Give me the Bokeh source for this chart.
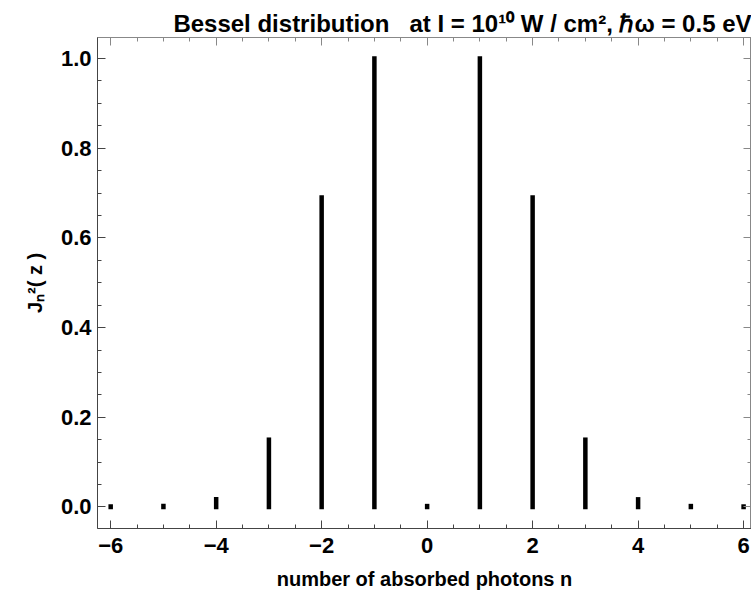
from bokeh.plotting import figure
from bokeh.models import FixedTicker, LinearAxis, Range1d, ColumnDataSource, Title
from bokeh.embed import file_html
from bokeh.resources import INLINE

# Data
photons_n = [-6, -5, -4, -3, -2, -1, 0, 1, 2, 3, 4, 5, 6]
bessel_sq = [0.001, 0.002, 0.017, 0.15, 0.69, 1.0, 0.002, 1.0, 0.69, 0.15, 0.017, 0.002, 0.001]
x_ticks = [-6, -4, -2, 0, 2, 4, 6]
y_ticks = [0.0, 0.2, 0.4, 0.6, 0.8, 1.0]
x_tick_labels = {t: (("\u2212" + str(abs(t))) if t < 0 else str(t)) for t in x_ticks}
y_tick_labels = {t: f"{t:.1f}" for t in y_ticks}

FONT = "Liberation Sans"

p = figure(width=751, height=592, output_backend="svg", toolbar_location=None,
           x_range=Range1d(-6.25, 6.15), y_range=Range1d(-0.048, 1.047),
           min_border_left=97, min_border_top=37, min_border_right=0, min_border_bottom=64,
           title=None)
p.background_fill_color = "white"
p.border_fill_color = "white"
p.outline_line_color = "#888888"
p.grid.visible = False

src = ColumnDataSource(dict(n=photons_n, v=bessel_sq, z=[0] * len(photons_n)))
p.segment(x0="n", y0="z", x1="n", y1="v", source=src, line_width=4.5,
          line_color="black", line_cap="square")

minor_x = [x / 2 for x in range(-14, 15)]
minor_y = [y / 20 for y in range(-1, 22)]

for ax in p.xaxis:
    ax.ticker = FixedTicker(ticks=x_ticks, minor_ticks=minor_x)
    ax.major_label_overrides = x_tick_labels
    ax.axis_label = "number of absorbed photons n"
for ax in p.yaxis:
    ax.ticker = FixedTicker(ticks=y_ticks, minor_ticks=minor_y)
    ax.major_label_overrides = y_tick_labels
    ax.axis_label = "J\u2099\u00b2( z )"

for ax in list(p.xaxis) + list(p.yaxis):
    ax.major_tick_in = 8
    ax.major_tick_out = 0
    ax.minor_tick_in = 4
    ax.minor_tick_out = 0
    ax.axis_line_color = "#444444"
    ax.major_tick_line_color = "#444444"
    ax.minor_tick_line_color = "#444444"
    ax.major_label_text_font = FONT
    ax.major_label_text_font_size = "22px"
    ax.major_label_text_font_style = "bold"
    ax.major_label_text_color = "black"
    ax.axis_label_text_font = FONT
    ax.axis_label_text_font_size = "20px"
    ax.axis_label_text_font_style = "bold"
    ax.axis_label_text_color = "black"
    ax.major_label_standoff = 6

p.xaxis.major_label_standoff = 9
p.xaxis.axis_label_standoff = 12
p.yaxis.axis_label_standoff = 12

# Unlabelled frame axes on top and right
top = LinearAxis(ticker=FixedTicker(ticks=x_ticks, minor_ticks=minor_x),
                 major_label_overrides={t: "" for t in x_ticks},
                 major_tick_in=8, major_tick_out=0,
                 minor_tick_in=4, minor_tick_out=0, axis_line_color="#888888",
                 major_tick_line_color="#888888", minor_tick_line_color="#888888",
                 major_label_standoff=0)
right = LinearAxis(ticker=FixedTicker(ticks=y_ticks, minor_ticks=minor_y),
                   major_label_overrides={t: "" for t in y_ticks},
                   major_tick_in=8, major_tick_out=0,
                   minor_tick_in=4, minor_tick_out=0, axis_line_color="#888888",
                   major_tick_line_color="#888888", minor_tick_line_color="#888888",
                   major_label_standoff=0)
p.add_layout(top, "above")
p.add_layout(right, "right")

NB = "\u00a0"
t = Title(text="Bessel distribution" + NB * 3 + "at I = 10\u00b9\u2070 W / cm\u00b2, \u210f\u03c9 = 0.5 eV",
          align="right", text_font=FONT, text_font_size="24px", text_font_style="bold",
          text_color="black", offset=0, standoff=2)
p.add_layout(t, "above")

open("out.html", "w").write(file_html(p, INLINE))
